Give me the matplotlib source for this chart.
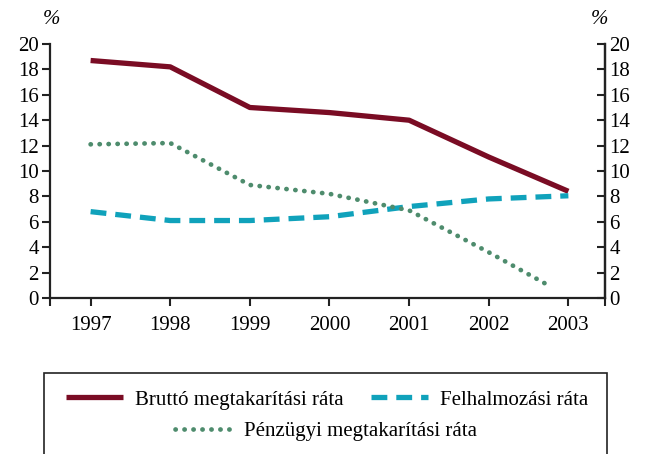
import matplotlib.pyplot as plt
from matplotlib.patches import Rectangle

plt.rcParams['font.family'] = ['Liberation Serif', 'DejaVu Serif']

years = [1997, 1998, 1999, 2000, 2001, 2002, 2003]
brutto = [18.7, 18.2, 15.0, 14.6, 14.0, 11.1, 8.4]
felhalm = [6.8, 6.1, 6.1, 6.4, 7.2, 7.8, 8.05]
penz_x = [1997, 1998, 1999, 2000, 2001, 2002, 2002.72]
penz = [12.1, 12.2, 8.9, 8.2, 6.9, 3.6, 1.1]

red = '#7a0c24'
teal = '#10a2bb'
green = '#4e8c6d'
dark = '#222222'
fs = 15

fig = plt.figure(figsize=(6.5, 4.54), dpi=100)
ax = fig.add_axes([50/650, 1-298/454, 555/650, 254/454])

l1, = ax.plot(years, brutto, color=red, lw=3.8, solid_capstyle='butt', label='Bruttó megtakarítási ráta')
l2, = ax.plot(years, felhalm, color=teal, lw=3.8, dashes=(3.0, 1.7), dash_capstyle='butt', label='Felhalmozási ráta')
l3, = ax.plot(penz_x, penz, color=green, lw=3.4, linestyle=(0, (0.05, 1.85)), dash_capstyle='round', label='Pénzügyi megtakarítási ráta')

ax.set_xlim(1996.49, 2003.46)
ax.set_ylim(0, 20)
ax.set_yticks(range(0, 21, 2))
ax.set_xticks(years)
ax.set_xticks([1996.49, 2003.46], minor=True)
ax.spines['top'].set_visible(False)
for s in ['left', 'bottom', 'right']:
    ax.spines[s].set_linewidth(1.6)
    ax.spines[s].set_color(dark)
ax.tick_params(axis='y', direction='out', length=6, width=1.5, color=dark, labelsize=fs, pad=2)
ax.tick_params(axis='x', which='both', direction='out', length=6, width=1.5, color=dark, labelsize=fs, pad=7)
ax.tick_params(axis='x', which='minor', labelbottom=False)

ax2 = ax.twinx()
ax2.set_ylim(0, 20)
ax2.set_yticks(range(0, 21, 2))
for s in ['top', 'left', 'bottom']:
    ax2.spines[s].set_visible(False)
ax2.spines['right'].set_linewidth(1.6)
ax2.spines['right'].set_color(dark)
ax2.tick_params(axis='y', direction='in', length=6, width=1.5, color=dark, labelsize=fs, pad=3)

fig.text(52/650, 1-19/454, '%', fontsize=fs, ha='center', va='center', style='italic')
fig.text(600/650, 1-19/454, '%', fontsize=fs, ha='center', va='center', style='italic')

fig.patches.append(Rectangle((44/650, -0.05), (607-44)/650, 1-373/454+0.05,
                             transform=fig.transFigure, fill=False, edgecolor=dark, lw=1.2, clip_on=False))

fig.legend(handles=[l1, l2], loc='center', bbox_to_anchor=(327/650, 1-400/454), ncol=2,
           frameon=False, fontsize=fs, handlelength=2.75, handletextpad=0.58, columnspacing=1.3,
           borderpad=0, borderaxespad=0)
fig.legend(handles=[l3], loc='center', bbox_to_anchor=(326/650, 1-431/454), ncol=1,
           frameon=False, fontsize=fs, handlelength=2.75, handletextpad=0.58,
           borderpad=0, borderaxespad=0)

fig.savefig('out.png', dpi=100)
